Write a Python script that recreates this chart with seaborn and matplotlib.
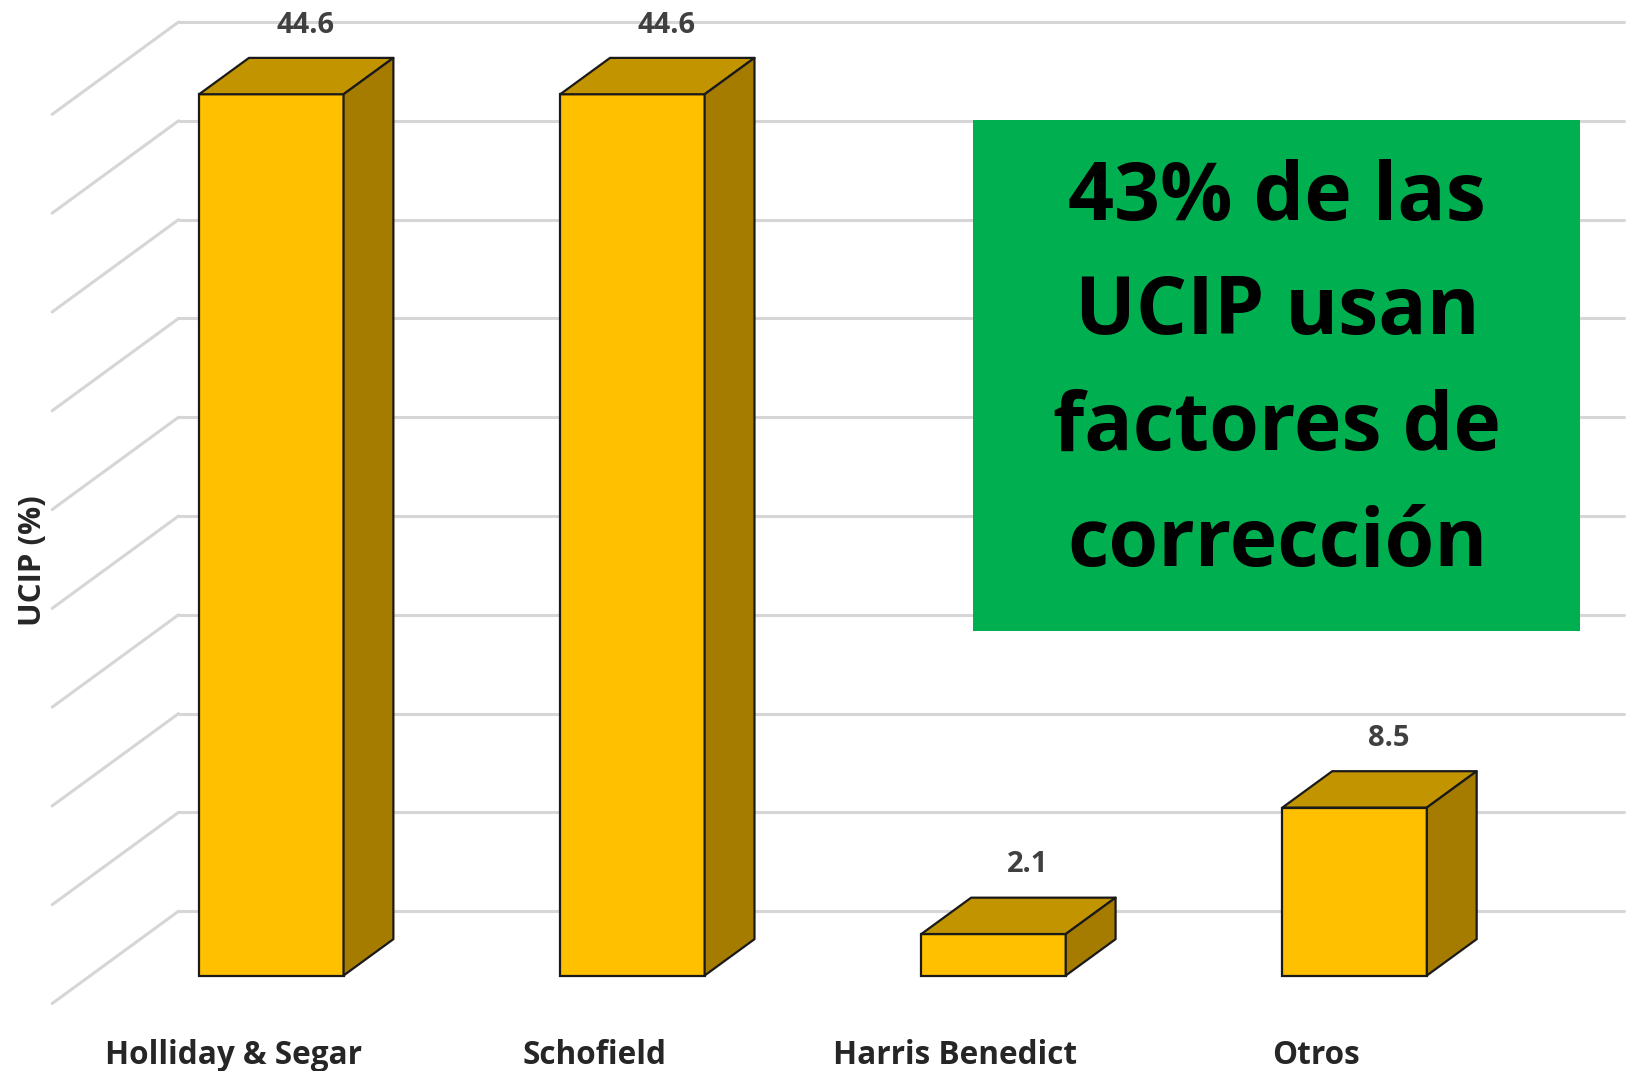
import numpy as np
import pandas as pd
import matplotlib
matplotlib.use("Agg")
import matplotlib.pyplot as plt
from matplotlib.patches import Polygon, Rectangle
import seaborn as sns

# --- data -------------------------------------------------------------
categories = ["Holliday & Segar", "Schofield", "Harris Benedict", "Otros"]
values = [44.6, 44.6, 2.1, 8.5]
value_labels = ["44.6", "44.6", "2.1", "8.5"]
grid_values = [0, 5, 10, 15, 20, 25, 30, 35, 40, 45]
y_label = "UCIP (%)"
callout_lines = ["43% de las", "UCIP usan", "factores de", "corrección"]

# --- styling ------------------------------------------------------------
sns.set_style("white")
plt.rcParams["font.family"] = ["Open Sans", "DejaVu Sans"]
plt.rcParams["font.weight"] = "bold"

FRONT = "#FFC000"
TOP = "#C29400"
SIDE = "#A57B00"
EDGE = "#1A1A1A"
GRID = "#D6D6D6"
GREEN = "#00B050"

# oblique depth of one bar (category units, value units)
BAR_DX, BAR_DY = 0.138, 1.84
# back wall / floor front offsets relative to the plane of the bar fronts
WALL_DX, WALL_DY = 0.244, 3.256
FLOOR_DX, FLOOR_DY = -0.106, -1.418
WALL_LEFT = -0.257
WALL_RIGHT = 3.746

df = pd.DataFrame({"metodo": categories, "ucip": values})

fig = plt.figure(figsize=(16.27, 10.71), dpi=100)
ax = fig.add_axes([0.0, 0.0407, 1.0, 0.9593])

sns.barplot(data=df, x="metodo", y="ucip", width=0.4, color=FRONT,
            saturation=1, edgecolor=EDGE, linewidth=1.6, zorder=3, ax=ax)

# back wall gridlines and floor-side diagonals
for v in grid_values:
    yb = v + WALL_DY
    yf = v + FLOOR_DY
    ax.plot([WALL_LEFT, WALL_RIGHT], [yb, yb], color=GRID, lw=2.2,
            solid_capstyle="round", zorder=1)
    ax.plot([WALL_LEFT + FLOOR_DX - WALL_DX, WALL_LEFT], [yf, yb],
            color=GRID, lw=2.2, solid_capstyle="round", zorder=1)

# top and side faces of each bar from its front rectangle
for p, lab in zip(ax.patches, value_labels):
    x0, w, h = p.get_x(), p.get_width(), p.get_height()
    top = [(x0, h), (x0 + w, h), (x0 + w + BAR_DX, h + BAR_DY), (x0 + BAR_DX, h + BAR_DY)]
    side = [(x0 + w, 0), (x0 + w + BAR_DX, BAR_DY), (x0 + w + BAR_DX, h + BAR_DY), (x0 + w, h)]
    ax.add_patch(Polygon(top, closed=True, facecolor=TOP, edgecolor=EDGE,
                         lw=1.6, joinstyle="round", zorder=3))
    ax.add_patch(Polygon(side, closed=True, facecolor=SIDE, edgecolor=EDGE,
                         lw=1.6, joinstyle="round", zorder=3))
    ax.text(x0 + w / 2 + 0.095, h + 3.5, lab, ha="center", va="center",
            fontsize=21, fontweight="bold", color="#404040", zorder=4)

# callout box
ax.add_patch(Rectangle((1.944, 17.44), 3.625 - 1.944, 43.28 - 17.44,
                       facecolor=GREEN, edgecolor="none", zorder=5))
for line, yb in zip(callout_lines, [38.24, 32.46, 26.63, 20.75]):
    ax.text(2.786, yb, line, ha="center", va="baseline", fontsize=58,
            fontweight="bold", color="black", zorder=6)

# axes cosmetics
ax.set_xlim(-0.7514, 3.7543)
ax.set_ylim(-2.626, 49.370)
ax.set_xticks(np.arange(len(categories)) + FLOOR_DX, labels=categories)
ax.tick_params(axis="x", length=0, pad=8, labelsize=22.7)
for t in ax.get_xticklabels():
    t.set_fontweight("bold")
ax.set_yticks([])
ax.set_xlabel("")
ax.set_ylabel(y_label, fontsize=22.5, fontweight="bold")
ax.yaxis.set_label_coords(0.0295, 0.4545)
for s in ax.spines.values():
    s.set_visible(False)
ax.patch.set_alpha(0)

fig.savefig("out.png", dpi=100, facecolor="white")
